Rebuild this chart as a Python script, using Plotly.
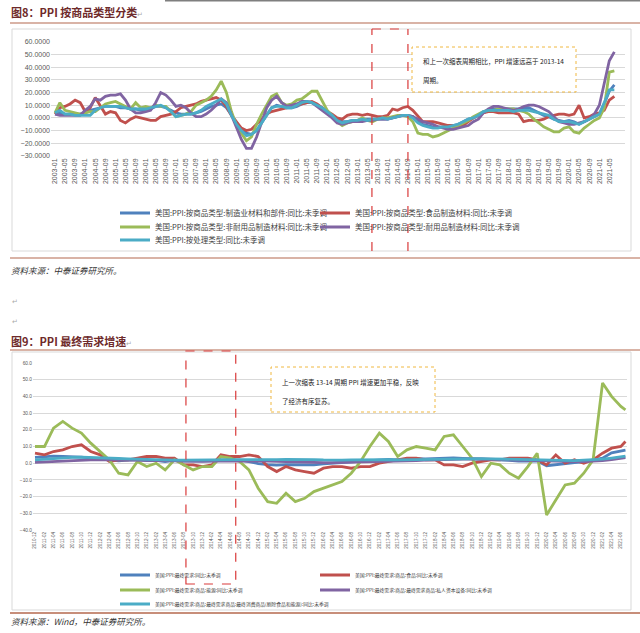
import pandas as pd
import plotly.graph_objects as go

W, H = 640, 633
FONT = "Noto Sans CJK SC"


def px(x):
    return x / W


def py(y):
    return 1 - y / H


# ---------------- Chart 1 data (bi-monthly samples, 2003-01 .. 2021-07) ----------------
months1 = pd.date_range("2003-01-01", "2021-07-01", freq="2MS")
ticks1 = pd.date_range("2003-01-01", "2021-05-01", freq="4MS")

mfg_materials = [3, 4, 3, 3, 3, 3,
                 4, 6, 7, 8, 9, 9,
                 9, 8, 8, 7, 7, 6,
                 6, 7, 9, 9, 8, 6,
                 4, 3, 3, 3, 4, 5,
                 7, 9, 10, 11, 8, 2,
                 -4, -9, -12, -13, -10, -4,
                 3, 8, 10, 9, 8, 8,
                 9, 11, 12, 12, 10, 8,
                 5, 2, -1, -3, -3, -2,
                 -2, -1, -1, -1, -1, -1,
                 -1, 0, 1, 2, 2, 1,
                 -3, -5, -6, -7, -7, -7,
                 -7, -6, -5, -3, -1, 0,
                 2, 4, 6, 7, 7, 7,
                 7, 7, 7, 8, 8, 6,
                 4, 2, 1, -1, -2, -3,
                 -2, -3, -5, -3, -1, 1,
                 3, 11, 21, 26]

food_materials = [3, 8, 9, 11, 14, 12,
                  5, 8, 16, 10, 3, 5,
                  4, -2, -4, -1, 1, 0,
                  -1, -2, -2, 1, 2, 3,
                  5, 8, 9, 10, 11, 13,
                  14, 15, 16, 14, 9, 2,
                  -3, -8, -10, -9, -5, -1,
                  3, 5, 6, 7, 8, 9,
                  10, 11, 12, 13, 11, 8,
                  5, 3, 0, -1, 2, 3,
                  3, 2, 3, 2, 1, 1,
                  2, 7, 6, 8, 9, 6,
                  1, -3, -3, -3, -4, -5,
                  -6, -6, -7, -6, -3, 0,
                  2, 4, 5, 5, 4, 4,
                  4, 4, 3, -3, -2, -2,
                  -2, -1, 1, 2, 3, 3,
                  2, 3, 10, 0, 1, 3,
                  4, 6, 14, 17]

nondurable_materials = [4, 12, 6, 5, 4, 3,
                        4, 5, 5, 8, 11, 12,
                        13, 11, 9, 7, 12, 8,
                        9, 8, 10, 9, 9, 5,
                        1, 2, 3, 5, 10, 12,
                        14, 17, 22, 29, 20, 5,
                        -6, -12, -18, -15, -5, 3,
                        10, 17, 19, 12, 10, 11,
                        14, 15, 18, 21, 21, 14,
                        6, 2, -3, -6, -4, -3,
                        -2, 0, -2, -3, -1, 0,
                        0, 1, 2, 2, 1, -3,
                        -12, -13, -13, -15, -14, -12,
                        -10, -8, -6, -4, -2, 1,
                        3, 5, 6, 6, 7, 7,
                        7, 7, 6, 5, 3, -1,
                        -4, -7, -9, -11, -11, -8,
                        -7, -11, -12, -8, -5, -2,
                        0, 8, 36, 37]

durable_materials = [3, 2, 2, 2, 2, 2,
                     6, 9, 15, 14, 17, 18,
                     18, 19, 14, 7, 4, 4,
                     5, 6, 12, 20, 18, 14,
                     9, 10, 8, 4, 1, 1,
                     3, 6, 10, 15, 12, 2,
                     -8, -17, -24, -24, -15, -3,
                     8, 14, 17, 12, 9, 10,
                     11, 13, 13, 12, 9, 6,
                     3, 0, -4, -5, -4, -3,
                     -3, -3, -2, -2, -1, -1,
                     -1, 0, 1, 2, 2, 1,
                     -1, -3, -4, -5, -7, -8,
                     -9, -9, -8, -7, -6, -3,
                     -1, 4, 7, 9, 9, 8,
                     7, 6, 7, 9, 10, 10,
                     9, 7, 5, 1, -3, -4,
                     -5, -5, -4, -3, -1, 3,
                     10, 28, 45, 52]

processing_stage = [4, 6, 3, 3, 2, 2,
                    2, 2, 6, 8, 9, 9,
                    9, 9, 8, 7, 7, 7,
                    7, 8, 9, 10, 8, 5,
                    1, 2, 3, 3, 4, 6,
                    9, 11, 13, 15, 11, 2,
                    -5, -10, -14, -13, -10, -4,
                    3, 8, 9, 9, 8, 8,
                    10, 12, 13, 12, 10, 8,
                    5, 2, -2, -4, -3, -2,
                    -2, -1, -2, -1, -1, 0,
                    -1, 0, 1, 2, 2, 0,
                    -4, -6, -7, -8, -8, -7,
                    -7, -6, -5, -3, -1, 0,
                    2, 5, 6, 6, 6, 6,
                    6, 5, 6, 6, 6, 5,
                    4, 3, 2, -1, -3, -3,
                    -3, -4, -5, -3, -1, 1,
                    3, 12, 22, 22]

names1 = ["美国:PPI:按商品类型:制造业材料和部件:同比:未季调",
          "美国:PPI:按商品类型:食品制造材料:同比:未季调",
          "美国:PPI:按商品类型:非耐用品制造材料:同比:未季调",
          "美国:PPI:按商品类型:耐用品制造材料:同比:未季调",
          "美国:PPI:按处理类型:同比:未季调"]
series1 = [mfg_materials, food_materials, nondurable_materials, durable_materials, processing_stage]

# ---------------- Chart 2 data (bi-monthly samples, 2010-12 .. 2021-07) ----------------
months2 = list(pd.date_range("2010-12-01", "2021-06-01", freq="2MS")) + [pd.Timestamp("2021-07-01")]
ticks2 = pd.date_range("2010-12-01", "2021-06-01", freq="2MS")

final_demand = [3.5, 4.0, 4.2, 4.0, 3.9, 3.6, 3.0, 2.5, 2.0, 1.4, 1.8, 2.1,
                1.6, 1.7, 1.0, 1.9, 1.3, 1.2, 1.1, 1.4, 2.0, 1.9, 1.8, 1.0,
                -0.2, -0.8, -1.2, -0.9, -1.0, -1.1, -1.0, -0.4, 0.0, 0.3, 0.8, 1.1,
                1.6, 2.1, 2.3, 2.0, 2.4, 2.7, 2.6, 2.8, 3.0, 3.2, 2.9, 2.7,
                2.5, 2.0, 2.0, 1.7, 1.2, 1.1, 1.3, -1.5, -0.8, -0.4, 0.3, 0.8,
                1.7, 3.0, 6.2, 7.3, 7.8]

fd_food = [6, 5, 7, 8, 10, 11, 7, 5, 1, 2, 2, 3,
           4, 4, 3, 3, -1, -1, -2, -1, 5, 4, 4, 5,
           4, -2, -5, -2, -4, -5, -6, -3, -2, -2, -3, -2,
           -2, 0, 1, 2, 3, 3, 2, 2, -1, -1, -2, 0,
           1, 2, 2, 3, 3, 3, 2, -1, 5, 0, 2, 0,
           2, 6, 9, 10, 13]

fd_energy = [10, 10, 21, 25, 21, 18, 12, 7, 2, -6, -7, 1,
             -2, 0, -4, 2, -1, -4, -2, -2, 4, 3, 1, -4,
             -15, -23, -24, -18, -23, -21, -17, -15, -13, -11, -6, 1,
             10, 18, 13, 4, 8, 10, 9, 8, 16, 17, 10, 3,
             -8, 0, -1, -6, -9, -2, 6, -31, -22, -13, -12, -6,
             2, 48, 40, 34, 32]

fd_capital_equip = [0.5, 0.8, 1.2, 1.5, 1.6, 1.8, 2.0, 2.1, 2.0, 1.8, 1.7, 1.6,
                    1.5, 1.4, 1.2, 1.1, 1.0, 1.0, 1.1, 1.2, 1.3, 1.4, 1.4, 1.3,
                    1.3, 1.2, 1.0, 0.9, 0.7, 0.6, 0.5, 0.4, 0.3, 0.4, 0.5, 0.7,
                    0.9, 1.0, 1.2, 1.3, 1.5, 1.6, 1.8, 2.0, 2.2, 2.4, 2.5, 2.6,
                    2.5, 2.3, 2.1, 1.9, 1.7, 1.5, 1.4, 1.2, 1.0, 0.9, 0.9, 1.0,
                    1.2, 1.6, 2.2, 3.0, 3.4]

fd_consumer_core = [2.0, 2.4, 2.9, 3.3, 3.5, 3.6, 3.5, 3.3, 3.0, 2.8, 2.6, 2.4,
                    2.2, 2.1, 2.0, 1.9, 1.9, 2.0, 2.1, 2.2, 2.3, 2.3, 2.2, 2.1,
                    2.0, 2.0, 2.1, 2.3, 2.4, 2.4, 2.2, 2.0, 1.8, 1.9, 2.0, 2.1,
                    2.2, 2.2, 2.1, 2.0, 2.1, 2.2, 2.3, 2.4, 2.6, 2.7, 2.8, 2.8,
                    2.7, 2.6, 2.5, 2.4, 2.3, 2.2, 2.1, 1.9, 1.5, 1.4, 1.6, 1.8,
                    2.0, 2.4, 3.1, 3.9, 4.3]

names2 = ["美国:PPI:最终需求:同比:未季调",
          "美国:PPI:最终需求:商品:食品:同比:未季调",
          "美国:PPI:最终需求:商品:能源:同比:未季调",
          "美国:PPI:最终需求:商品:最终需求商品:私人资本设备:同比:未季调",
          "美国:PPI:最终需求:商品:最终需求商品:最终消费商品(剔除食品和能源):同比:未季调"]
series2 = [final_demand, fd_food, fd_energy, fd_capital_equip, fd_consumer_core]

colors = ["#4F81BD", "#C0504D", "#9BBB59", "#8064A2", "#4BACC6"]

# one legend per entry so the two-column grid of the original can be reproduced
legend_ids1 = ["legend", "legend2", "legend3", "legend4", "legend5"]
legend_ids2 = ["legend6", "legend7", "legend8", "legend9", "legend10"]
legend_pos1 = [(115, 213), (315, 213), (115, 227), (315, 227), (115, 240)]
legend_pos2 = [(115, 575), (315, 575), (115, 590), (315, 590), (115, 604)]

fig = go.Figure()
for name, vals, col, lg in zip(names1, series1, colors, legend_ids1):
    fig.add_trace(go.Scatter(x=months1, y=vals, name=name, mode="lines", showlegend=True,
                             line=dict(color=col, width=2.8), xaxis="x", yaxis="y",
                             legend=lg, hoverinfo="skip"))
for name, vals, col, lg in zip(names2, series2, colors, legend_ids2):
    fig.add_trace(go.Scatter(x=months2, y=vals, name=name, mode="lines", showlegend=True,
                             line=dict(color=col, width=2.8), xaxis="x2", yaxis="y2",
                             legend=lg, hoverinfo="skip"))


def date_span(px_left, px_right, ref_date, ref_px, px_per_month):
    ppd = px_per_month * 12 / 365.25
    t = pd.Timestamp(ref_date)
    a = t + pd.Timedelta(days=(px_left - ref_px) / ppd)
    b = t + pd.Timedelta(days=(px_right - ref_px) / ppd)
    return [a.strftime("%Y-%m-%d %H:%M"), b.strftime("%Y-%m-%d %H:%M")]


GRID = "#D9D9D9"
TICKC = "#595959"

fig.update_layout(
    width=W, height=H, margin=dict(l=0, r=0, t=0, b=0, autoexpand=False),
    paper_bgcolor="white", plot_bgcolor="white", showlegend=True,
    font=dict(family=FONT, color="#404040"),
    xaxis=dict(domain=[px(51), px(625)], type="date",
               range=date_span(51, 625, "2003-01-01", 55, 2.52),
               tickvals=list(ticks1), ticktext=[d.strftime("%Y-%m") for d in ticks1],
               tickangle=-90, tickfont=dict(size=7, color=TICKC, family="Liberation Sans"),
               showgrid=False, zeroline=False, showline=False, ticks="", anchor="y"),
    yaxis=dict(domain=[py(156), py(41.7)], range=[-30, 60], dtick=10, tick0=0,
               tickformat=".4f", gridcolor=GRID, gridwidth=1, zeroline=False,
               tickfont=dict(size=7, color=TICKC, family="Liberation Sans"), anchor="x"),
    xaxis2=dict(domain=[px(33), px(627)], type="date",
                range=date_span(33, 627, "2010-12-01", 35, 4.65),
                tickvals=list(ticks2), ticktext=[d.strftime("%Y-%m") for d in ticks2],
                tickangle=-90, tickfont=dict(size=4.6, color=TICKC, family="Liberation Sans"),
                showgrid=False, zeroline=False, showline=False, ticks="", anchor="y2"),
    yaxis2=dict(domain=[py(530), py(363)], range=[-40, 60], dtick=10, tick0=0,
                tickformat=".1f", gridcolor=GRID, gridwidth=1, zeroline=False,
                tickfont=dict(size=4.8, color=TICKC, family="Liberation Sans"), anchor="x2"),
)


def legend_cfg(x, y, size):
    return dict(orientation="h", x=px(x), xanchor="left", y=py(y), yanchor="middle",
                font=dict(size=size, color="#404040", family=FONT), visible=True,
                bgcolor="rgba(0,0,0,0)", itemwidth=30, tracegroupgap=0)


leg = {}
for lid, (lx, ly) in zip(legend_ids1, legend_pos1):
    leg[lid] = legend_cfg(lx, ly, 7.5)
for lid, (lx, ly) in zip(legend_ids2, legend_pos2):
    leg[lid] = legend_cfg(lx, ly, 4.8)
fig.update_layout(**leg)

BROWN = "#B4694E"
RED = "#D93A3A"
YEL = "#F0B840"
shapes = []


def hline(x0, x1, y, color, width, dash="solid"):
    shapes.append(dict(type="line", xref="paper", yref="paper", x0=px(x0), x1=px(x1),
                       y0=py(y), y1=py(y), line=dict(color=color, width=width, dash=dash)))


def prect(x0, y0, x1, y1, color, width, dash="solid", fill="rgba(0,0,0,0)"):
    shapes.append(dict(type="rect", xref="paper", yref="paper", x0=px(x0), x1=px(x1),
                       y0=py(y1), y1=py(y0), fillcolor=fill,
                       line=dict(color=color, width=width, dash=dash), layer="above"))


hline(165, 640, 0.5, "#7F7F7F", 2)
hline(10, 640, 23, BROWN, 1.2)
prect(12, 29, 631, 251, GRID, 1)
hline(10, 640, 258, BROWN, 1.2)
hline(10, 640, 350, BROWN, 1.2)
prect(12, 352, 631, 610, GRID, 1)
hline(10, 640, 613, BROWN, 1.5)

# red dashed marker of the 2013-14 tapering period (chart 1: open at the bottom)
for xd in ["2013-06-25", "2014-09-03"]:
    shapes.append(dict(type="line", xref="x", yref="paper", x0=xd, x1=xd, y0=py(251), y1=py(29),
                       line=dict(color=RED, width=1.2, dash="dash")))
shapes.append(dict(type="line", xref="x", yref="paper", x0="2013-06-25", x1="2014-09-03",
                   y0=py(29), y1=py(29), line=dict(color=RED, width=1.2, dash="dash")))
# chart 2 red dashed rect
shapes.append(dict(type="rect", xref="x2", yref="paper", x0="2013-08-15", x1="2014-07-07",
                   y0=py(584), y1=py(351), line=dict(color=RED, width=1.2, dash="dash")))

# yellow callout boxes
prect(412, 47, 576, 92, YEL, 1, "dot", "white")
prect(271, 367, 435, 412, YEL, 1, "dot", "white")

fig.update_layout(shapes=shapes)

ann = []


def text(x, y, s, size, color="#222222", family=FONT):
    ann.append(dict(xref="paper", yref="paper", x=px(x), y=py(y), xanchor="left", yanchor="middle",
                    text=s, showarrow=False, font=dict(size=size, color=color, family=family)))


MAROON = "#6E2A2A"
RET = '<span style="color:#AAAAAA;font-size:7px">↵</span>'
text(9, 12, "<b>图8：PPI 按商品类型分类</b>" + RET, 11, MAROON)
text(9, 270, "<i>资料来源：中泰证券研究所。</i>", 8.5, "#333333")
text(10, 302, "↵", 7, "#AAAAAA", "DejaVu Sans")
text(10, 322, "↵", 7, "#AAAAAA", "DejaVu Sans")
text(9, 341, "<b>图9：PPI 最终需求增速</b>" + RET, 11, MAROON)
text(9, 621, "<i>资料来源：Wind，中泰证券研究所。</i>", 8.5, "#333333")

text(421, 61, "和上一次缩表周期相比，PPI 增速远高于 2013-14", 6.5)
text(421, 80, "周期。", 6.5)
text(280, 382, "上一次缩表 13-14 周期 PPI 增速更加平稳，反映", 6.5)
text(280, 401, "了经济有序复苏。", 6.5)

fig.update_layout(annotations=ann)

fig.write_html("out.html")
